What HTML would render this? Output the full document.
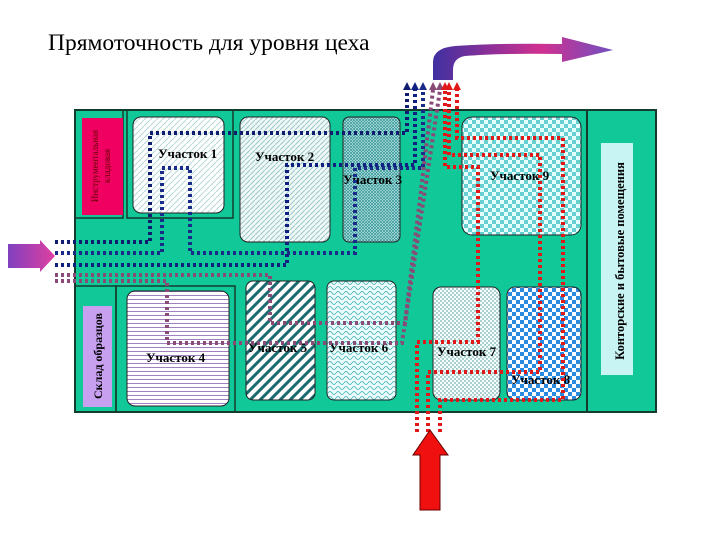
<!DOCTYPE html>
<html><head><meta charset="utf-8"><style>
body{margin:0;background:#fff;width:720px;height:540px;overflow:hidden}
svg{display:block}
text{font-family:"Liberation Serif",serif}
</style></head><body>
<svg width="720" height="540" viewBox="0 0 720 540">
<defs>
<pattern id="p1" width="6" height="6" patternUnits="userSpaceOnUse"><rect width="6" height="6" fill="#fff"/><path d="M0 6L6 0" stroke="#b8d8d8" stroke-width="1"/></pattern>
<pattern id="p2" width="5" height="5" patternUnits="userSpaceOnUse"><rect width="5" height="5" fill="#f0f8f8"/><path d="M0 5L5 0" stroke="#9cc8c8" stroke-width="1"/></pattern>
<pattern id="p3" width="3" height="3" patternUnits="userSpaceOnUse"><rect width="3" height="3" fill="#cfeeee"/><path d="M0 0L3 3M3 0L0 3" stroke="#3a9a9a" stroke-width=".8"/></pattern>
<pattern id="p9" width="8" height="8" patternUnits="userSpaceOnUse"><rect width="8" height="8" fill="#e8ffff"/><rect width="4" height="4" fill="#66d0d0"/><rect x="4" y="4" width="4" height="4" fill="#66d0d0"/></pattern>
<pattern id="p4" width="4" height="4" patternUnits="userSpaceOnUse"><rect width="4" height="4" fill="#fff"/><rect y="3" width="4" height="1" fill="#a080c0"/></pattern>
<pattern id="p5" width="10" height="10" patternUnits="userSpaceOnUse"><rect width="10" height="10" fill="#fff"/><path d="M-2 2L2 -2M0 10L10 0M8 12L12 8" stroke="#1a6a70" stroke-width="3"/></pattern>
<pattern id="p6" width="8" height="5" patternUnits="userSpaceOnUse"><rect width="8" height="5" fill="#eafcfc"/><path d="M0 3Q2 0 4 3T8 3" stroke="#40b0b0" fill="none" stroke-width=".8"/></pattern>
<pattern id="p7" width="4" height="4" patternUnits="userSpaceOnUse"><rect width="4" height="4" fill="#f8ffff"/><circle cx="1" cy="1" r=".7" fill="#3a8a8a"/><circle cx="3" cy="3" r=".7" fill="#3a8a8a"/></pattern>
<pattern id="p8" width="8" height="8" patternUnits="userSpaceOnUse"><rect width="8" height="8" fill="#fff"/><rect width="4" height="4" fill="#2a8ae0"/><rect x="4" y="4" width="4" height="4" fill="#2a8ae0"/></pattern>
<linearGradient id="gl" x1="0" x2="1"><stop offset="0" stop-color="#8040c0"/><stop offset="1" stop-color="#e040a0"/></linearGradient>
<linearGradient id="gt" x1="0" x2="1"><stop offset="0" stop-color="#4030a0"/><stop offset=".6" stop-color="#d03090"/><stop offset="1" stop-color="#7050c0"/></linearGradient>
</defs>
<text x="48" y="50" font-size="23.5">Прямоточность для уровня цеха</text>
<rect x="75" y="110" width="581" height="302" fill="#10c898" stroke="#143c2c" stroke-width="2"/>
<line x1="587" y1="110" x2="587" y2="412" stroke="#143c2c" stroke-width="2"/>
<rect x="601" y="143" width="32" height="232" fill="#c8f4f4"/>
<text transform="translate(624,261) rotate(-90)" font-size="12.5" font-weight="bold" text-anchor="middle">Конторские и бытовые помещения</text>
<rect x="75" y="110" width="48" height="108" fill="none" stroke="#143c2c" stroke-width="1.5"/>
<rect x="82" y="118" width="41" height="97" fill="#f00060"/>
<text transform="translate(98,166) rotate(-90)" font-size="9" text-anchor="middle" fill="#600">Инструментальная</text>
<text transform="translate(110,166) rotate(-90)" font-size="9" text-anchor="middle" fill="#600">кладовая</text>
<rect x="127" y="110" width="106" height="108" fill="none" stroke="#143c2c" stroke-width="1.5"/>
<rect x="133" y="117" width="91" height="96" rx="8" fill="url(#p1)" stroke="#222"/>
<rect x="240" y="117" width="90" height="125" rx="8" fill="url(#p2)" stroke="#222"/>
<rect x="343" y="117" width="57" height="125" rx="6" fill="url(#p3)" stroke="#222"/>
<rect x="462" y="117" width="119" height="118" rx="10" fill="url(#p9)" stroke="#222"/>
<rect x="75" y="286" width="41" height="126" fill="none" stroke="#143c2c" stroke-width="1.5"/>
<rect x="83" y="306" width="29" height="101" fill="#c8a0f0"/>
<text transform="translate(102,356) rotate(-90)" font-size="12" font-weight="bold" text-anchor="middle">Склад образцов</text>
<rect x="116" y="286" width="119" height="126" fill="none" stroke="#143c2c" stroke-width="1.5"/>
<rect x="127" y="291" width="102" height="115" rx="8" fill="url(#p4)" stroke="#222"/>
<rect x="246" y="281" width="69" height="119" rx="7" fill="url(#p5)" stroke="#222"/>
<rect x="327" y="281" width="69" height="119" rx="7" fill="url(#p6)" stroke="#222"/>
<rect x="433" y="287" width="67" height="113" rx="8" fill="url(#p7)" stroke="#222"/>
<rect x="507" y="287" width="74" height="113" rx="8" fill="url(#p8)" stroke="#222"/>
<g font-size="13" font-weight="bold">
<text x="158" y="158">Участок 1</text>
<text x="255" y="161">Участок 2</text>
<text x="343" y="184">Участок 3</text>
<text x="490" y="180">Участок 9</text>
<text x="146" y="362">Участок 4</text>
<text x="248" y="352">Участок 5</text>
<text x="329" y="352">Участок 6</text>
<text x="437" y="356">Участок 7</text>
<text x="511" y="384">Участок 8</text>
</g>
<g fill="none" stroke-width="4" stroke-dasharray="3 3">
<path d="M55 242H150V133H407V90" stroke="#101c70"/>
<path d="M55 253H162V168H190V253H355V168H423V90" stroke="#1a2a88"/>
<path d="M55 265H287V165H415V90" stroke="#102080"/>
<path d="M55 275H270V323H405L433 90" stroke="#8a4a78"/>
<path d="M55 281H167V343H402L440 90" stroke="#8a4a78"/>
<path d="M417 432V342H478V167H445V90" stroke="#e01818"/>
<path d="M428 432V372H540V155H449V90" stroke="#e01818"/>
<path d="M440 432V400H563V138H457V90" stroke="#e01818"/>
</g>
<g>
<path d="M403 90l4-8 4 8z" fill="#101c70"/><path d="M411 90l4-8 4 8z" fill="#102080"/><path d="M419 90l4-8 4 8z" fill="#1a2a88"/>
<path d="M429 90l4-8 4 8z" fill="#8a4a78"/><path d="M436 90l4-8 4 8z" fill="#8a4a78"/>
<path d="M441 90l4-8 4 8z" fill="#e01818"/><path d="M445 90l4-8 4 8z" fill="#e01818"/><path d="M453 90l4-8 4 8z" fill="#e01818"/>
</g>
<path d="M433 80V62Q433 48 455 46Q500 43 562 44V37L613 50L562 62V54Q500 53 465 56Q453 58 453 70V80Z" fill="url(#gt)"/>
<path d="M8 244H40V240L55 256L40 272V268H8Z" fill="url(#gl)"/>
<path d="M420 510V455H413L430 430L448 455H440V510Z" fill="#f01010" stroke="#600" stroke-width="1"/>
</svg>
</body></html>
